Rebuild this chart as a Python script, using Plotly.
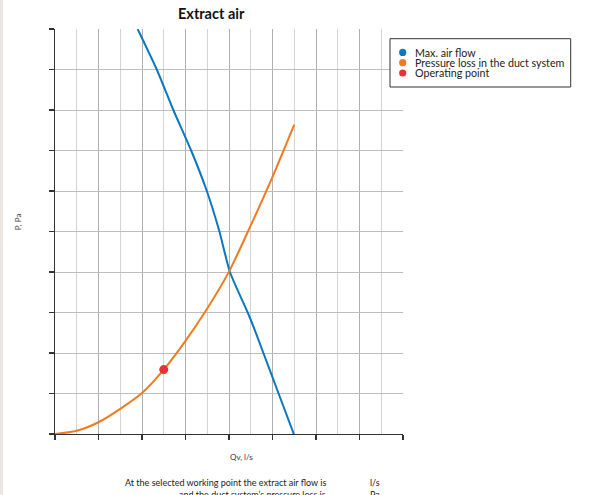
import plotly.graph_objects as go

# ---- data (axis units: x 0..8, y 0..10, no tick labels shown) ----
fan_q = [1.90, 2.34, 2.72, 3.13, 3.49, 3.78, 4.02, 4.43, 4.56, 4.79, 5.14, 5.49]
fan_p = [10.0, 9.0, 8.0, 7.0, 6.0, 5.0, 4.0, 3.0, 2.66, 2.0, 1.0, 0.0]

duct_q = [0.0, 0.5, 1.0, 1.5, 2.0, 2.5, 3.0, 3.5, 4.0, 4.5, 5.0, 5.5]
duct_p = [0.0, 0.08, 0.29, 0.62, 1.01, 1.59, 2.30, 3.10, 4.01, 5.15, 6.35, 7.64]

op_q = [2.5]
op_p = [1.59]

series_names = ["Max. air flow", "Pressure loss in the duct system", "Operating point"]
series_colors = ["#0a77c0", "#f27a1e", "#e8323a"]

W, H = 589, 495
L, R, T, B = 55, 403, 29.3, 434.3
FONT = "Lato, 'Open Sans', sans-serif"


def px(x):
    return (x - L) / (R - L)


def py(y):
    return (B - y) / (B - T)


fig = go.Figure()
fig.add_trace(go.Scatter(x=fan_q, y=fan_p, mode="lines", name=series_names[0],
                         line=dict(color=series_colors[0], width=2, shape="spline", smoothing=0.5),
                         showlegend=False))
fig.add_trace(go.Scatter(x=duct_q, y=duct_p, mode="lines", name=series_names[1],
                         line=dict(color=series_colors[1], width=2, shape="spline", smoothing=0.8),
                         showlegend=False))
fig.add_trace(go.Scatter(x=op_q, y=op_p, mode="markers", name=series_names[2],
                         marker=dict(color=series_colors[2], size=9),
                         showlegend=False))

shapes = []
annotations = []

# left beige strip
shapes.append(dict(type="rect", xref="paper", yref="paper",
                   x0=px(0), x1=px(3), y0=py(495), y1=py(0),
                   fillcolor="#ebe6e1", line=dict(width=0), layer="below"))

# custom legend box
shapes.append(dict(type="rect", xref="paper", yref="paper",
                   x0=px(390), x1=px(570.7), y0=py(87.3), y1=py(39),
                   fillcolor="white", line=dict(color="#333333", width=1), layer="above"))
leg_y = [52.7, 63.0, 73.3]
for name, col, yy in zip(series_names, series_colors, leg_y):
    shapes.append(dict(type="circle", xref="paper", yref="paper",
                       x0=px(402.7 - 3.6), x1=px(402.7 + 3.6),
                       y0=py(yy + 3.6), y1=py(yy - 3.6),
                       fillcolor=col, line=dict(width=0), layer="above"))
    annotations.append(dict(xref="paper", yref="paper", x=px(412.5), y=py(yy),
                            xanchor="left", yanchor="middle", showarrow=False,
                            text=name, font=dict(family=FONT, size=10.7, color="#222222")))

# title
annotations.append(dict(xref="paper", yref="paper", x=px(211.5), y=py(14),
                        xanchor="center", yanchor="middle", showarrow=False,
                        text="<b>Extract air</b>", font=dict(family=FONT, size=14.5, color="#111111")))
# axis titles
annotations.append(dict(xref="paper", yref="paper", x=px(241.5), y=py(457),
                        xanchor="center", yanchor="middle", showarrow=False,
                        text="Qv, l/s", font=dict(family=FONT, size=8, color="#333333")))
annotations.append(dict(xref="paper", yref="paper", x=px(17.5), y=py(222),
                        xanchor="center", yanchor="middle", showarrow=False, textangle=-90,
                        text="P, Pa", font=dict(family=FONT, size=8, color="#444444")))
# footer text
annotations.append(dict(xref="paper", yref="paper", x=px(328), y=py(483.3),
                        xanchor="right", yanchor="middle", showarrow=False,
                        text="At the selected working point the extract air flow is",
                        font=dict(family=FONT, size=9, color="#222222")))
annotations.append(dict(xref="paper", yref="paper", x=px(328), y=py(495),
                        xanchor="right", yanchor="middle", showarrow=False,
                        text="and the duct system’s pressure loss is",
                        font=dict(family=FONT, size=9, color="#222222")))
annotations.append(dict(xref="paper", yref="paper", x=px(368), y=py(483.3),
                        xanchor="left", yanchor="middle", showarrow=False,
                        text="l/s", font=dict(family=FONT, size=9, color="#222222")))
annotations.append(dict(xref="paper", yref="paper", x=px(368), y=py(495),
                        xanchor="left", yanchor="middle", showarrow=False,
                        text="Pa", font=dict(family=FONT, size=9, color="#222222")))

fig.update_layout(
    width=W, height=H,
    margin=dict(l=L, r=W - R, t=T, b=H - B, pad=0),
    paper_bgcolor="white", plot_bgcolor="white",
    showlegend=False,
    shapes=shapes, annotations=annotations,
    font=dict(family=FONT),
)
fig.update_xaxes(range=[0, 8], dtick=1, tick0=0, showticklabels=False,
                 ticks="outside", ticklen=5, tickwidth=1.3, tickcolor="#333333",
                 showgrid=True, gridcolor="#b0b0b0", gridwidth=1,
                 minor=dict(dtick=0.5, showgrid=True, gridcolor="#d4d4d4", gridwidth=1),
                 showline=True, linecolor="#333333", linewidth=1.3,
                 zeroline=False, fixedrange=True)
fig.update_yaxes(range=[0, 10], dtick=1, tick0=0, showticklabels=False,
                 ticks="outside", ticklen=5, tickwidth=1.3, tickcolor="#333333",
                 showgrid=True, gridcolor="#bdbdbd", gridwidth=1,
                 showline=True, linecolor="#333333", linewidth=1.3,
                 zeroline=False, fixedrange=True)

fig.write_html("out.html",
               config={"displayModeBar": False, "staticPlot": True},
               post_script="document.body.style.margin='0';document.body.style.overflow='hidden';")
